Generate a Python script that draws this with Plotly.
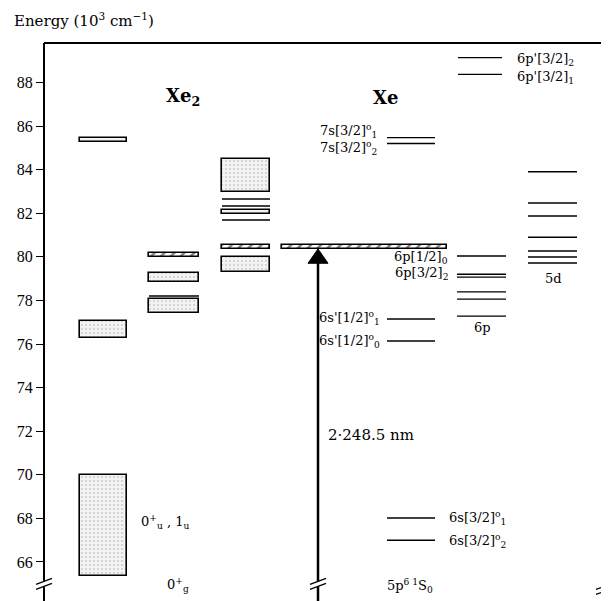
import plotly.graph_objects as go

# ---------------- data (energies in 10^3 cm^-1) ----------------
# Xe2 molecular bands: (bottom, top)
xe2_colA_boxes = [(65.36, 70.0), (76.27, 77.05), (85.25, 85.43)]
xe2_colB_boxes = [(78.84, 79.26), (77.42, 78.06)]
xe2_colB_lines = [78.2]
xe2_colB_hatch = [(79.98, 80.16)]
xe2_colC_boxes = [(82.97, 84.49), (81.96, 82.15), (79.30, 80.0)]
xe2_colC_lines = [82.65, 82.33, 81.69]
xe2_colC_hatch = [(80.36, 80.54)]

# Xe atomic levels
xe_s_levels = [67.0, 68.02, 76.14, 77.15, 85.2, 85.47]
xe_6p_levels = [80.04, 79.2, 79.07, 78.39, 78.06, 77.28]
xe_6pp_levels = [89.14, 88.37]
xe_5d_levels = [83.9, 82.47, 81.87, 80.9, 80.27, 79.99, 79.72]
laser_band = (80.36, 80.54)   # 2 x 248.5 nm

yticks = [66, 68, 70, 72, 74, 76, 78, 80, 82, 84, 86, 88]

# ---------------- layout helpers ----------------
OFF = 8                      # page body margin of the browser
W, H = 609 - OFF, 601 - OFF
TOP, AXX = 43, 44            # reference-pixel positions
Y0, Y1 = 64.21, 89.81
SERIF = "DejaVu Serif"
TICKSERIF = "Liberation Serif"

def E(ypx):
    return 66 + (562 - ypx) / 21.818

colA = (80, 127)
colB = (149, 199)
colC = (222, 270)
col_s = (387, 435)
col_6p = (457, 506)
col_6pp = (458, 502)
col_5d = (528, 577)
laser_x = (282, 447)
arrow_x = 318

fig = go.Figure()

stipple = dict(shape=".", fgcolor="#a8a8a8", bgcolor="#f3f3f3", size=4, solidity=0.22)
hatch = dict(shape="/", fgcolor="black", bgcolor="white", size=7, solidity=0.35)

def add_boxes(col, boxes, pattern, lw=1.6):
    xc = (col[0] + col[1]) / 2
    w = col[1] - col[0]
    fig.add_trace(go.Bar(
        x=[xc] * len(boxes), base=[b for b, t in boxes], y=[t - b for b, t in boxes],
        width=[w] * len(boxes),
        marker=dict(color="#f3f3f3", line=dict(color="black", width=lw), pattern=pattern),
        showlegend=False, hoverinfo="skip"))

def add_lines(col, levels, lw=1.4):
    xs, ys = [], []
    for v in levels:
        xs += [col[0], col[1], None]
        ys += [v, v, None]
    fig.add_trace(go.Scatter(x=xs, y=ys, mode="lines", line=dict(color="black", width=lw),
                             showlegend=False, hoverinfo="skip"))

add_boxes(colA, xe2_colA_boxes, stipple)
add_boxes(colB, xe2_colB_boxes, stipple)
add_boxes(colB, xe2_colB_hatch, hatch)
add_lines(colB, xe2_colB_lines)
add_boxes(colC, xe2_colC_boxes, stipple)
add_boxes(colC, xe2_colC_hatch, hatch)
add_lines(colC, xe2_colC_lines)
add_boxes(laser_x, [laser_band], hatch)

add_lines(col_s, xe_s_levels)
add_lines(col_6p, xe_6p_levels)
add_lines(col_6pp, xe_6pp_levels)
add_lines(col_5d, xe_5d_levels)

# excitation arrow
fig.add_trace(go.Scatter(x=[arrow_x, arrow_x], y=[Y0, laser_band[0] - 0.3], mode="lines",
                         line=dict(color="black", width=2.5), showlegend=False, hoverinfo="skip"))

shapes = []
shapes.append(dict(type="path", xref="x", yref="y",
                   path=f"M {arrow_x-10},{E(263)} L {arrow_x},{laser_band[0]} L {arrow_x+10},{E(263)} Z",
                   fillcolor="black", line=dict(color="black", width=1)))
shapes.append(dict(type="line", xref="x", yref="paper", x0=AXX, x1=609, y0=1, y1=1,
                   line=dict(color="black", width=2)))

def brk(x, ypx, gap=True):
    out = []
    if gap:
        out.append(dict(type="rect", xref="x", yref="y", x0=x - 3, x1=x + 3,
                        y0=E(ypx + 2.5), y1=E(ypx - 2.5), fillcolor="white", line=dict(width=0)))
    for d in (-2.5, 2.5):
        out.append(dict(type="line", xref="x", yref="y", x0=x - 8, x1=x + 8,
                        y0=E(ypx + d + 3), y1=E(ypx + d - 3), line=dict(color="black", width=1.3)))
    return out

shapes += brk(AXX, 584)
shapes += brk(arrow_x, 584)
shapes += brk(604, 589, gap=False)

ann = []
def txt(x, y, s, xa="left", size=13):
    ann.append(dict(x=x, y=y, xref="x", yref="y", text=s, showarrow=False, xanchor=xa,
                    yanchor="middle", font=dict(family=SERIF, size=size, color="#000000")))

ann.append(dict(x=(12 - OFF) / W, y=1 + (TOP - 20) / (H - (TOP - OFF)), xref="paper", yref="paper",
                text="Energy (10<sup>3</sup> cm<sup>−1</sup>)", showarrow=False,
                xanchor="left", yanchor="middle", font=dict(family=SERIF, size=15, color="#000000")))

txt(183, E(97), "<b>Xe</b><sub><b>2</b></sub>", xa="center", size=18)
txt(385, E(97), "<b>Xe</b>", xa="center", size=18)

txt(379, E(131), "7s[3/2]<sup>o</sup><sub>1</sub>", xa="right")
txt(379, E(148), "7s[3/2]<sup>o</sup><sub>2</sub>", xa="right")
txt(450, E(257), "6p[1/2]<sub>0</sub>", xa="right")
txt(450, E(273), "6p[3/2]<sub>2</sub>", xa="right")
txt(382, E(318), "6s'[1/2]<sup>o</sup><sub>1</sub>", xa="right")
txt(382, E(341), "6s'[1/2]<sup>o</sup><sub>0</sub>", xa="right")
txt(447, E(518), "6s[3/2]<sup>o</sup><sub>1</sub>")
txt(447, E(541), "6s[3/2]<sup>o</sup><sub>2</sub>")
txt(515, E(59), "6p'[3/2]<sub>2</sub>")
txt(515, E(77), "6p'[3/2]<sub>1</sub>")
txt(482, E(327), "6p", xa="center")
txt(553, E(278), "5d", xa="center")
txt(326, E(435), "2·248.5 nm", size=15)
txt(139, E(522), "0<sup>+</sup><sub>u</sub> , 1<sub>u</sub>")
txt(178, E(585), "0<sup>+</sup><sub>g</sub>", xa="center")
txt(385, E(586), "5p<sup>6 1</sup>S<sub>0</sub>")

fig.update_layout(
    width=W, height=H, margin=dict(l=0, r=0, t=TOP - OFF, b=0),
    plot_bgcolor="white", paper_bgcolor="white",
    barmode="overlay", bargap=0,
    xaxis=dict(range=[OFF, 609], visible=False, fixedrange=True),
    yaxis=dict(range=[Y0, Y1], anchor="free", position=(AXX - OFF) / W, showline=True,
               linecolor="black", linewidth=2.2, ticks="outside", ticklen=7, tickwidth=1,
               tickcolor="black", tickvals=yticks, ticktext=[str(t) for t in yticks],
               showgrid=False, zeroline=False,
               tickfont=dict(family=TICKSERIF, size=16, color="black")),
    shapes=shapes, annotations=ann,
)

fig.write_html("out.html")
